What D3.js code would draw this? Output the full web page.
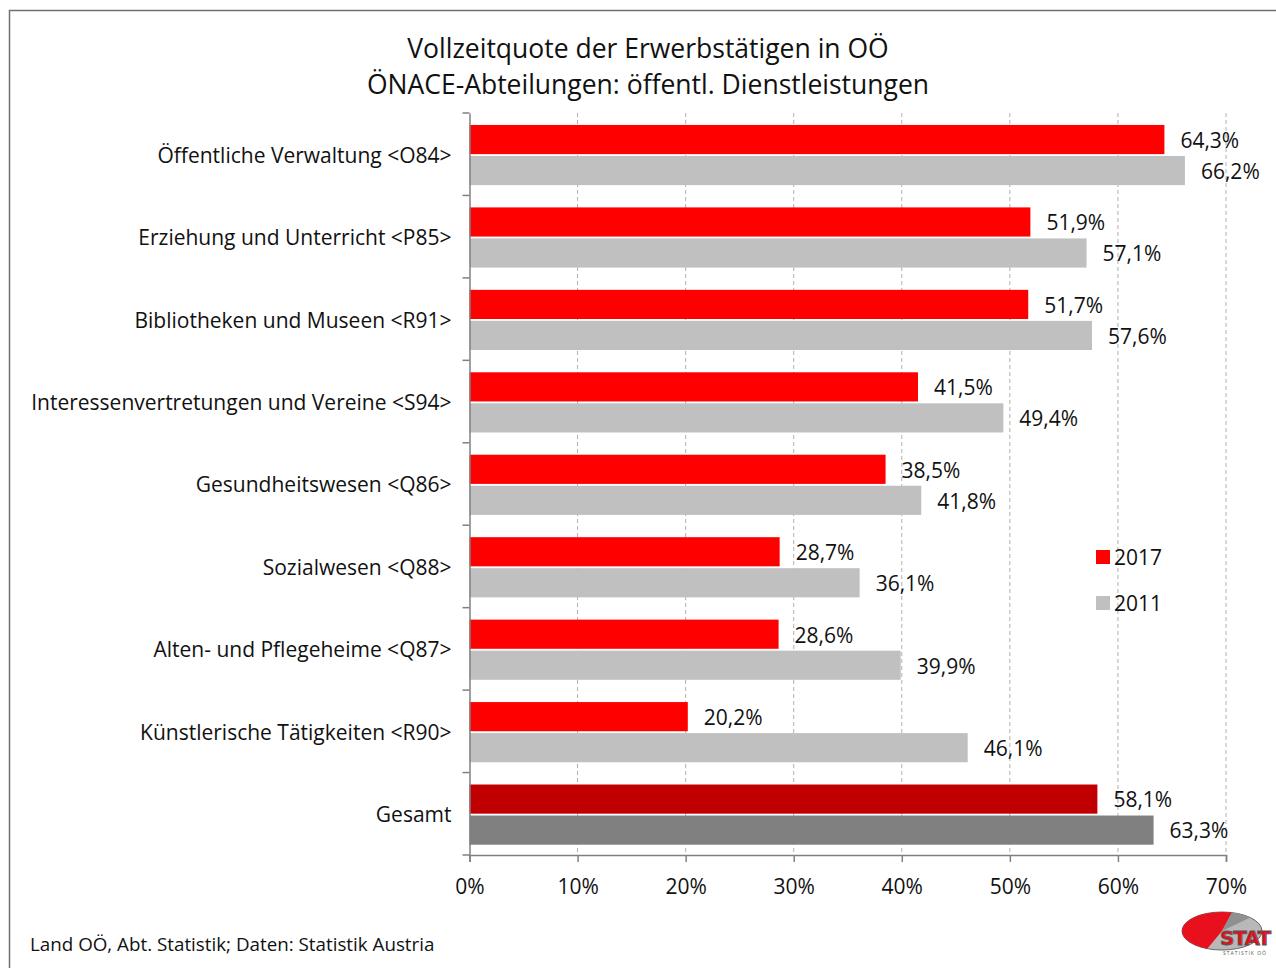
<!DOCTYPE html>
<html>
<head>
<meta charset="utf-8">
<script src="https://cdn.jsdelivr.net/npm/d3@7"></script>
<style>
  body { margin: 0; background: #fff; }
  svg { display: block; font-family: "Open Sans", sans-serif; }
</style>
</head>
<body>
<svg id="chart"></svg>
<script>
const categories = [
    "Öffentliche Verwaltung <O84>",
    "Erziehung und Unterricht <P85>",
    "Bibliotheken und Museen <R91>",
    "Interessenvertretungen und Vereine <S94>",
    "Gesundheitswesen <Q86>",
    "Sozialwesen <Q88>",
    "Alten- und Pflegeheime <Q87>",
    "Künstlerische Tätigkeiten <R90>",
    "Gesamt"
];
const series = ["2017", "2011"];
const values2017 = [64.3, 51.9, 51.7, 41.5, 38.5, 28.7, 28.6, 20.2, 58.1];
const values2011 = [66.2, 57.1, 57.6, 49.4, 41.8, 36.1, 39.9, 46.1, 63.3];
const xTicks = [0, 10, 20, 30, 40, 50, 60, 70];
const titleLines = ["Vollzeitquote der Erwerbstätigen in OÖ", "ÖNACE-Abteilungen: öffentl. Dienstleistungen"];

const W = 1276, H = 968;
const colors = { "2017": "#ff0000", "2011": "#c0c0c0" };
const totalColors = { "2017": "#c00000", "2011": "#808080" };

const data = categories.map((c, i) => ({
    cat: c,
    vals: [{ s: "2017", v: values2017[i] }, { s: "2011", v: values2011[i] }]
}));

const svg = d3.select("#chart").attr("width", W).attr("height", H);

// frame
svg.append("rect")
    .attr("x", 9.5).attr("y", 10.5)
    .attr("width", W).attr("height", H)
    .attr("fill", "none").attr("stroke", "#707070").attr("stroke-width", 1.5);

const margin = { top: 113, left: 469.5, right: W - 1226, bottom: H - 855 };

const x = d3.scaleLinear().domain([0, 70]).range([margin.left, 1226]);
const y = d3.scaleBand().domain(categories).range([margin.top, 855]).padding(0);
const ySub = d3.scaleBand().domain(series)
    .range([y.bandwidth() * 0.145, y.bandwidth() * 0.875])
    .paddingInner(0.06);

// gridlines
svg.append("g").selectAll("line")
    .data(xTicks.slice(1))
    .join("line")
    .attr("x1", d => x(d)).attr("x2", d => x(d))
    .attr("y1", margin.top).attr("y2", 855)
    .attr("stroke", "#b0b0b0").attr("stroke-dasharray", "4,3");

// bars
const groups = svg.append("g").selectAll("g")
    .data(data)
    .join("g")
    .attr("transform", d => `translate(0,${y(d.cat)})`);

groups.selectAll("rect")
    .data(d => d.vals.map(v => ({ ...v, cat: d.cat })))
    .join("rect")
    .attr("x", x(0))
    .attr("y", d => ySub(d.s))
    .attr("width", d => x(d.v) - x(0))
    .attr("height", ySub.bandwidth())
    .attr("fill", d => d.cat === "Gesamt" ? totalColors[d.s] : colors[d.s]);

groups.selectAll("text")
    .data(d => d.vals)
    .join("text")
    .attr("x", d => x(d.v) + 16)
    .attr("y", d => ySub(d.s) + ySub.bandwidth() / 2 + 1)
    .attr("dy", "0.35em")
    .style("font-size", "21px")
    .attr("fill", "#111")
    .text(d => d3.format(".1f")(d.v).replace(".", ",") + "%");

// axes
const yAxis = svg.append("g")
    .attr("transform", `translate(${margin.left},0)`)
    .call(d3.axisLeft(y).tickSize(0).tickPadding(18));
yAxis.select(".domain").attr("stroke", "#808080").attr("stroke-width", 1.5);
yAxis.selectAll("text").style("font-size", "21px").attr("fill", "#111")
    .attr("dy", "0.4em").style("font-family", "Open Sans, sans-serif");

// category separator ticks
svg.append("g").selectAll("line")
    .data(categories.map(c => y(c)).concat([855]))
    .join("line")
    .attr("x1", margin.left - 7).attr("x2", margin.left)
    .attr("y1", d => d).attr("y2", d => d)
    .attr("stroke", "#808080").attr("stroke-width", 1.5);

const xAxis = svg.append("g")
    .attr("transform", `translate(0,855)`)
    .call(d3.axisBottom(x).tickValues(xTicks).tickFormat(d => d + "%").tickSize(7).tickPadding(17));
xAxis.select(".domain").attr("stroke", "#808080").attr("stroke-width", 1.5);
xAxis.selectAll(".tick line").attr("stroke", "#808080").attr("stroke-width", 1.5);
xAxis.selectAll("text").style("font-size", "21px").attr("fill", "#111").style("font-family", "Open Sans, sans-serif");

// title
svg.append("g").selectAll("text")
    .data(titleLines)
    .join("text")
    .attr("x", 648)
    .attr("y", (d, i) => 58 + i * 36)
    .attr("text-anchor", "middle")
    .style("font-size", "26.5px")
    .attr("fill", "#111")
    .text(d => d);

// legend
const legend = svg.append("g").selectAll("g")
    .data(series)
    .join("g")
    .attr("transform", (d, i) => `translate(1096,${550 + i * 46})`);
legend.append("rect")
    .attr("width", 14).attr("height", 14)
    .attr("fill", d => colors[d]);
legend.append("text")
    .attr("x", 18).attr("y", 8).attr("dy", "0.35em")
    .style("font-size", "21px").attr("fill", "#111")
    .text(d => d);

// source
svg.append("text")
    .attr("x", 30).attr("y", 951)
    .style("font-size", "18.8px").attr("fill", "#111")
    .text("Land OÖ, Abt. Statistik; Daten: Statistik Austria");

// logo
const logo = svg.append("g").attr("transform", "translate(1222,931)");
const ell = (rx, ry, a) => [rx * Math.cos(a), ry * Math.sin(a)];
logo.append("ellipse").attr("rx", 40).attr("ry", 19).attr("fill", "#b8b8b8").attr("stroke", "#666").attr("stroke-width", 1);
const p1 = ell(40, 19, -Math.PI * 0.42), p2 = ell(40, 19, Math.PI * 0.62);
logo.append("path")
    .attr("d", `M0,0 L${p1[0]},${p1[1]} A40,19 0 0 0 ${p2[0]},${p2[1]} Z`)
    .attr("fill", "#e8101c");
const p3 = ell(40, 19, -Math.PI * 0.25);
logo.append("path")
    .attr("d", `M0,0 L${p1[0]},${p1[1]} A40,19 0 0 1 ${p3[0]},${p3[1]} Z`)
    .attr("fill", "#909090");
logo.append("text")
    .attr("x", 23).attr("y", 14)
    .attr("text-anchor", "middle")
    .style("font-family", "DejaVu Sans, sans-serif")
    .style("font-weight", "bold").style("font-size", "20px")
    .attr("fill", "#e8101c").attr("stroke", "#555").attr("stroke-width", 0.8)
    .style("letter-spacing", "-1px")
    .text("STAT");
logo.append("text")
    .attr("x", 23).attr("y", 24)
    .attr("text-anchor", "middle")
    .style("font-size", "5px").style("letter-spacing", "1px")
    .attr("fill", "#555")
    .text("STATISTIK OÖ");
</script>
</body>
</html>
